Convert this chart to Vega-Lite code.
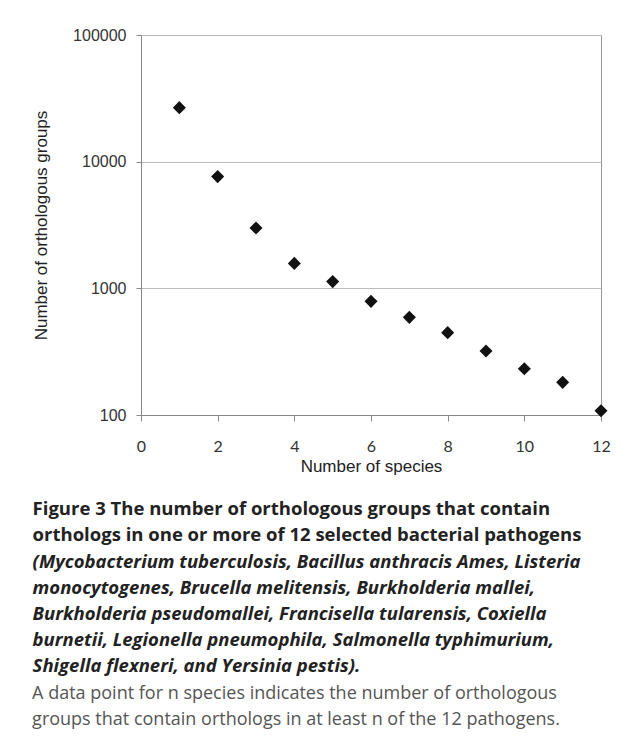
{
  "$schema": "https://vega.github.io/schema/vega-lite/v6.json",
  "padding": {"left": 32, "top": 26, "right": 4, "bottom": 4},
  "background": "white",
  "title": {
    "text": ["A data point for n species indicates the number of orthologous", "groups that contain orthologs in at least n of the 12 pathogens."],
    "orient": "bottom",
    "anchor": "start",
    "frame": "bounds",
    "offset": 9,
    "font": "Open Sans",
    "fontSize": 18,
    "fontWeight": "normal",
    "color": "#555555",
    "lineHeight": 26
  },
  "vconcat": [
    {
      "width": 460,
      "height": 380,
      "title": {
        "text": ["Figure 3 The number of orthologous groups that contain", "orthologs in one or more of 12 selected bacterial pathogens"],
        "subtitle": ["(Mycobacterium tuberculosis, Bacillus anthracis Ames, Listeria", "monocytogenes, Brucella melitensis, Burkholderia mallei,", "Burkholderia pseudomallei, Francisella tularensis, Coxiella", "burnetii, Legionella pneumophila, Salmonella typhimurium,", "Shigella flexneri, and Yersinia pestis)."],
        "orient": "bottom",
        "anchor": "start",
        "frame": "bounds",
        "offset": 26,
        "font": "Open Sans",
        "fontSize": 18.5,
        "fontWeight": "bold",
        "color": "#222222",
        "lineHeight": 26,
        "subtitleFont": "Open Sans",
        "subtitleFontSize": 18.5,
        "subtitleFontWeight": "bold",
        "subtitleFontStyle": "italic",
        "subtitleColor": "#222222",
        "subtitleLineHeight": 26,
        "subtitlePadding": 8
      },
      "data": {
        "values": [
          {"species": 1, "groups": 26700},
          {"species": 2, "groups": 7620},
          {"species": 3, "groups": 3000},
          {"species": 4, "groups": 1574},
          {"species": 5, "groups": 1130},
          {"species": 6, "groups": 789},
          {"species": 7, "groups": 590},
          {"species": 8, "groups": 447},
          {"species": 9, "groups": 320},
          {"species": 10, "groups": 232},
          {"species": 11, "groups": 181},
          {"species": 12, "groups": 108}
        ]
      },
      "mark": {"type": "point", "shape": "diamond", "filled": true, "color": "#111111", "size": 170, "opacity": 1, "clip": false},
      "encoding": {
        "x": {
          "field": "species",
          "type": "quantitative",
          "scale": {"domain": [0, 12], "nice": false},
          "axis": {
            "title": "Number of species",
            "values": [0, 2, 4, 6, 8, 10, 12],
            "grid": false,
            "tickSize": 6,
            "labelPadding": 17,
            "labelFont": "Lato",
            "labelFontSize": 16,
            "labelColor": "#333333",
            "titleFont": "Liberation Sans",
            "titleFontSize": 17,
            "titleFontWeight": "normal",
            "titleColor": "#222222",
            "titlePadding": 4,
            "domainColor": "#888888",
            "tickColor": "#888888"
          }
        },
        "y": {
          "field": "groups",
          "type": "quantitative",
          "scale": {"type": "log", "domain": [100, 100000], "nice": false},
          "axis": {
            "title": "Number of orthologous groups",
            "values": [100, 1000, 10000, 100000],
            "format": "d",
            "grid": true,
            "gridColor": "#bbbbbb",
            "tickSize": 5,
            "labelPadding": 10,
            "labelFont": "Liberation Sans",
            "labelFontSize": 16,
            "labelColor": "#333333",
            "titleFont": "Liberation Sans",
            "titleFontSize": 17,
            "titleFontWeight": "normal",
            "titleColor": "#222222",
            "titlePadding": 22,
            "domainColor": "#888888",
            "tickColor": "#888888"
          }
        }
      }
    }
  ],
  "config": {
    "view": {"stroke": "#999999", "strokeWidth": 1},
    "axis": {"labelFlush": false, "labelOverlap": false}
  }
}
